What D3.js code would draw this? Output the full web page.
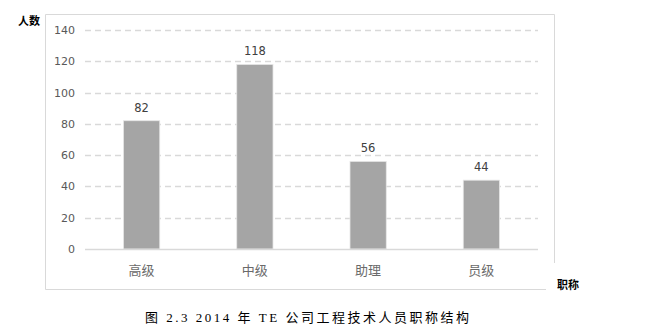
<!DOCTYPE html>
<html>
<head>
<meta charset="utf-8">
<script src="https://cdn.jsdelivr.net/npm/d3@7"></script>
<style>
body { margin: 0; background: #fff; }
svg { display: block; }
</style>
</head>
<body>
<script>
// chart data
var categories = ["高级", "中级", "助理", "员级"];
var values = [82, 118, 56, 44];
var yTicks = [0, 20, 40, 60, 80, 100, 120, 140];
var yTitle = "人数";
var xTitle = "职称";
var caption = "图 2.3 2014 年 TE 公司工程技术人员职称结构";

var svg = d3.select("body").append("svg")
    .attr("width", 646)
    .attr("height", 335);

var x = d3.scaleBand().domain(categories).range([85, 538]).paddingInner(0.68).paddingOuter(0.34);
var y = d3.scaleLinear().domain([0, 140]).range([249, 30]);

// outer frame (broken at the bottom right where the x title sits)
svg.append("path")
    .attr("d", "M546,289.5 H45.5 V14.5 H554.5 V263")
    .attr("fill", "none")
    .attr("stroke", "#d9d9d9")
    .attr("stroke-width", 1);

// grid lines
svg.append("g")
  .selectAll("line")
  .data(yTicks.filter(function(d) { return d > 0; }))
  .enter()
  .append("line")
    .attr("x1", 85).attr("x2", 538)
    .attr("y1", function(d) { return Math.round(y(d)) + 0.5; })
    .attr("y2", function(d) { return Math.round(y(d)) + 0.5; })
    .attr("stroke", "#d9d9d9")
    .attr("stroke-width", 1.3)
    .attr("stroke-dasharray", "6,4");

// y axis labels
var yAxis = svg.append("g")
    .attr("transform", "translate(85,0)")
    .call(d3.axisLeft(y).tickValues(yTicks).tickSize(0).tickPadding(10));
yAxis.select(".domain").remove();
yAxis.selectAll("text")
    .attr("fill", "#595959")
    .style("font-family", "'DejaVu Sans', sans-serif")
    .style("font-size", "11px");

// bars
svg.append("g")
  .selectAll("rect")
  .data(values)
  .enter()
  .append("rect")
    .attr("x", function(d, i) { return x(categories[i]); })
    .attr("y", function(d) { return y(d); })
    .attr("width", x.bandwidth())
    .attr("height", function(d) { return y(0) - y(d); })
    .attr("fill", "#a5a5a5")
    .attr("stroke", "#e6e6e6")
    .attr("stroke-width", 0.8);

// baseline
svg.append("line")
    .attr("x1", 85).attr("x2", 538)
    .attr("y1", y(0) + 0.5).attr("y2", y(0) + 0.5)
    .attr("stroke", "#d9d9d9")
    .attr("stroke-width", 1.5);

// value labels
svg.append("g")
  .selectAll("text")
  .data(values)
  .enter()
  .append("text")
    .attr("x", function(d, i) { return x(categories[i]) + x.bandwidth() / 2; })
    .attr("y", function(d) { return y(d) - 9; })
    .attr("text-anchor", "middle")
    .attr("fill", "#404040")
    .style("font-family", "'DejaVu Sans', sans-serif")
    .style("font-size", "11.5px")
    .text(function(d) { return d; });

// category labels
svg.append("g")
  .selectAll("text")
  .data(categories)
  .enter()
  .append("text")
    .attr("x", function(d) { return x(d) + x.bandwidth() / 2; })
    .attr("y", 275)
    .attr("text-anchor", "middle")
    .attr("fill", "#6a6a6a")
    .style("font-family", "'Noto Sans CJK SC', sans-serif")
    .style("font-size", "13px")
    .text(function(d) { return d; });

// axis titles
svg.append("text")
    .attr("x", 18).attr("y", 25)
    .style("font-family", "'Noto Sans CJK SC', sans-serif")
    .style("font-size", "11px")
    .style("font-weight", "bold")
    .text(yTitle);

svg.append("text")
    .attr("x", 557).attr("y", 289)
    .style("font-family", "'Noto Sans CJK SC', sans-serif")
    .style("font-size", "11px")
    .style("font-weight", "bold")
    .text(xTitle);

// caption
svg.append("text")
    .attr("x", 145).attr("y", 322)
    .style("font-family", "'Liberation Serif', 'Noto Sans CJK SC', serif")
    .style("font-size", "13px")
    .style("letter-spacing", "2.5px")
    .text(caption);
</script>
</body>
</html>
